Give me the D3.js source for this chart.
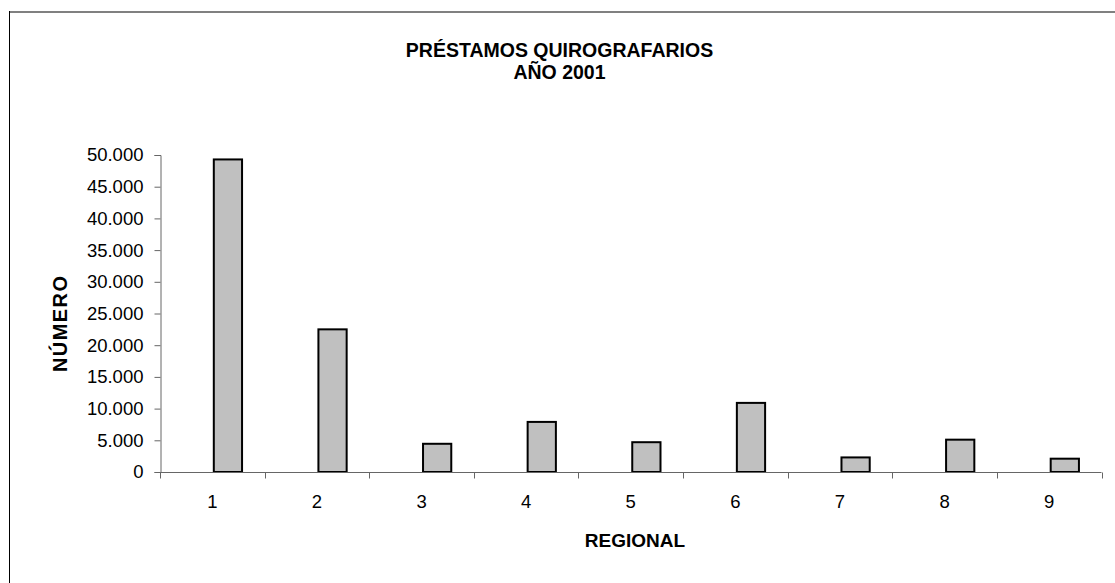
<!DOCTYPE html>
<html>
<head>
<meta charset="utf-8">
<script src="https://cdn.jsdelivr.net/npm/d3@7/dist/d3.min.js"></script>
<style>
  html, body { margin: 0; padding: 0; background: #fff; }
  svg { display: block; }
  text { font-family: "Liberation Sans", Arial, sans-serif; fill: #000; }
</style>
</head>
<body>
<svg id="chart" width="1115" height="583"></svg>
<script>
const categories = ["1", "2", "3", "4", "5", "6", "7", "8", "9"];
const values = [49300, 22500, 4450, 7900, 4700, 10900, 2300, 5100, 2100];
const yTicks = [0, 5000, 10000, 15000, 20000, 25000, 30000, 35000, 40000, 45000, 50000];
const titleLines = ["PRÉSTAMOS QUIROGRAFARIOS", "AÑO 2001"];
const xTitle = "REGIONAL";
const yTitle = "NÚMERO";

const svg = d3.select("#chart");
const W = 1115, H = 583;

// frame
svg.append("line").attr("x1", 9).attr("x2", W).attr("y1", 12).attr("y2", 12)
  .attr("stroke", "#808080").attr("stroke-width", 2);
svg.append("line").attr("x1", 9.5).attr("x2", 9.5).attr("y1", 11).attr("y2", H)
  .attr("stroke", "#000").attr("stroke-width", 1);

const x = d3.scaleBand().domain(categories).range([160, 1101.5]).padding(0);
const y = d3.scaleLinear().domain([0, 50000]).range([472, 155]);

const locale = d3.formatLocale({decimal: ",", thousands: ".", grouping: [3], currency: ["", ""]});
const fmt = locale.format(",d");

// bars
const bw = x.bandwidth() * 0.27;
svg.append("g").selectAll("rect").data(values).join("rect")
  .attr("x", (d, i) => x(categories[i]) + x.bandwidth() / 2 + 1.5)
  .attr("width", bw)
  .attr("y", d => y(d))
  .attr("height", d => y(0) - y(d))
  .attr("fill", "#c0c0c0")
  .attr("stroke", "#000")
  .attr("stroke-width", 2);

// y axis
const yAxis = d3.axisLeft(y).tickValues(yTicks).tickFormat(fmt).tickSize(6).tickPadding(11);
const gy = svg.append("g").attr("transform", "translate(160.5,0)").call(yAxis);
gy.select(".domain").attr("stroke", "#666");
gy.selectAll(".tick line").attr("stroke", "#666");
gy.selectAll(".tick text").attr("font-size", 18.5).attr("font-family", "Liberation Sans, Arial, sans-serif").attr("fill", "#000");

// x axis: ticks at band boundaries
const gx = svg.append("g").attr("transform", "translate(0,472.5)");
gx.append("line").attr("x1", 160).attr("x2", x.range()[1]).attr("y1", 0).attr("y2", 0).attr("stroke", "#666");
const bounds = categories.map(c => x(c)).concat([x.range()[1]]);
gx.selectAll("line.tk").data(bounds).join("line").attr("class", "tk")
  .attr("x1", d => Math.round(d) + 0.5).attr("x2", d => Math.round(d) + 0.5)
  .attr("y1", 0).attr("y2", 6).attr("stroke", "#666");
gx.selectAll("text").data(categories).join("text")
  .attr("x", d => x(d) + x.bandwidth() / 2)
  .attr("y", 35)
  .attr("text-anchor", "middle")
  .attr("font-size", 18.5)
  .text(d => d);

// titles
svg.append("g").selectAll("text").data(titleLines).join("text")
  .attr("x", 559.5).attr("y", (d, i) => 57 + i * 22)
  .attr("text-anchor", "middle").attr("font-weight", "bold").attr("font-size", 19.5)
  .text(d => d);

svg.append("text").attr("x", 635).attr("y", 547)
  .attr("text-anchor", "middle").attr("font-weight", "bold").attr("font-size", 19)
  .text(xTitle);

svg.append("text").attr("transform", "translate(67,324) rotate(-90)")
  .attr("text-anchor", "middle").attr("font-weight", "bold").attr("font-size", 20)
  .attr("textLength", 96).attr("lengthAdjust", "spacing")
  .text(yTitle);
</script>
</body>
</html>
